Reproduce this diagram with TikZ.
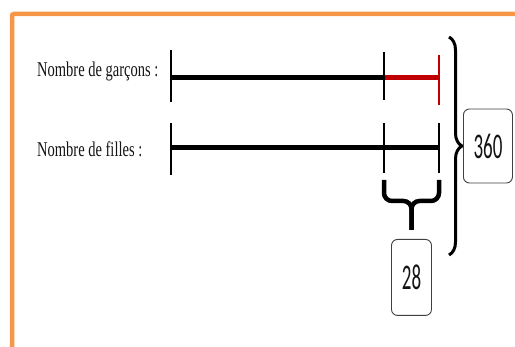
\documentclass[tikz,border=0pt]{standalone}
\usepackage{fontspec}
\setmainfont{Liberation Serif}
\newfontfamily\bmnum{Carlito}
\usepackage{graphicx}
\usetikzlibrary{positioning,calc,decorations.pathreplacing}
\definecolor{bmFrame}{HTML}{F79646}
\definecolor{bmRed}{HTML}{C00000}
\definecolor{bmInk}{HTML}{141414}
\definecolor{bmEdge}{HTML}{404040}
\newcommand{\bmtall}[2]{\scalebox{1}[#1]{#2}}
\tikzset{
  bmlabel/.style={
    anchor=west, inner sep=0pt, text=bmInk,
    font=\fontsize{14.5}{17}\selectfont
  },
  bmbar/.style={draw=black, line width=5pt},
  bmredbar/.style={draw=bmRed, line width=5pt},
  bmtick/.style={draw=black, line width=2.6pt},
  bmredtick/.style={draw=bmRed, line width=2.6pt},
  bmbrace/.style={
    decorate, decoration={brace, amplitude=#1},
    draw=black, line width=3pt
  },
  bmcurl/.style={draw=black, line width=4.5pt, rounded corners=8pt},
  bmbox/.style={
    rectangle, rounded corners=6pt, draw=bmEdge, line width=0.9pt,
    fill=white, text=bmInk, inner sep=0pt,
    font=\bmnum\fontsize{19}{22}\selectfont
  },
  bmframe/.style={draw=bmFrame, line width=4.5pt, rounded corners=2pt}
}

\begin{document}
\begin{tikzpicture}[x=1pt,y=-1pt]
\useasboundingbox (0,0) rectangle (515,347);

% Cadre orange
\draw[bmframe] (12,347) -- (12,14) -- (515,14);

% Libellés
\node[bmlabel] (lgar) at (37,71) {\bmtall{1.45}{Nombre de garçons :}};
\node[bmlabel] (lfil) at (37,149) {\bmtall{1.45}{Nombre de filles :}};

% Points des barres
\coordinate (g0) at (171,78);
\coordinate (g1) at (384,78);
\coordinate (g2) at (439,78);
\coordinate (f0) at (171,148);
\coordinate (f1) at (384,148);
\coordinate (f2) at (439,148);

% Barre des garçons
\draw[bmbar] (g0) -- (g1);
\draw[bmredbar] (g1) -- (g2);
\draw[bmtick] ($(g0)+(0,-28)$) -- ($(g0)+(0,24)$);
\draw[bmtick] ($(g1)+(0,-26)$) -- ($(g1)+(0,22)$);
\draw[bmredtick] ($(g2)+(0,-23)$) -- ($(g2)+(0,27)$);

% Barre des filles
\draw[bmbar] (f0) -- (f2);
\draw[bmtick] ($(f0)+(0,-25)$) -- ($(f0)+(0,27)$);
\draw[bmtick] ($(f1)+(0,-25)$) -- ($(f1)+(0,25)$);
\draw[bmtick] ($(f2)+(0,-25)$) -- ($(f2)+(0,25)$);

% Accolade de la différence
\coordinate (dA) at (384,180);
\coordinate (dB) at (439,180);
\coordinate (dmid) at ($(dA)!0.5!(dB)+(0,21)$);
\coordinate (dtip) at ($(dA)!0.5!(dB)+(0,50)$);
\draw[bmcurl] (dA) |- (dmid) -- (dtip);
\draw[bmcurl] (dB) |- (dmid) -- (dtip);
\node[bmbox, minimum width=40pt, minimum height=76pt, below=9pt of dtip] (diff) {\bmtall{1.9}{28}};

% Accolade du total
\coordinate (tA) at (449,37);
\coordinate (tB) at (449,255);
\draw[bmbrace=13] (tA) -- (tB);
\coordinate (ttip) at ($(tA)!0.5!(tB)+(13,0)$);
\node[bmbox, minimum width=49pt, minimum height=74pt, right=1pt of ttip] (total) {\bmtall{1.9}{360}};

\end{tikzpicture}
\end{document}
